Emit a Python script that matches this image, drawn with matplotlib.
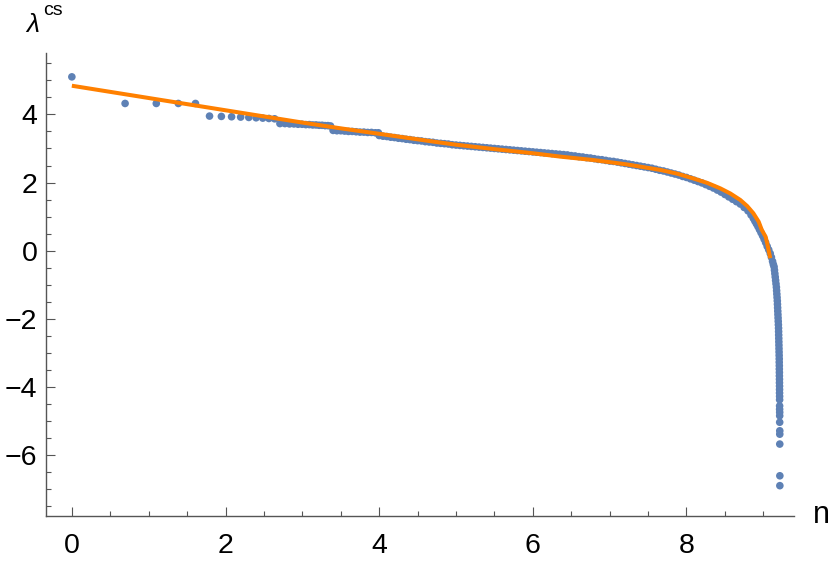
import numpy as np
import matplotlib.pyplot as plt
import matplotlib.ticker as mtick

plt.rcParams['font.family'] = ['Liberation Sans', 'DejaVu Sans']

# spectrum values (x = log index)
x_single = [0.0, 0.693, 1.099, 1.386, 1.609, 1.792, 1.946, 2.079, 2.197, 2.303,
            2.398, 2.485, 2.565, 2.639]
y_single = [5.10, 4.32, 4.32, 4.32, 4.32, 3.95, 3.94, 3.93, 3.92, 3.91,
            3.90, 3.89, 3.88, 3.87]

x_step1 = [2.708, 2.773, 2.833, 2.890, 2.944, 2.996, 3.045, 3.091, 3.135, 3.178,
           3.219, 3.258, 3.296, 3.332, 3.367]
y_step1 = [3.73, 3.73, 3.72, 3.72, 3.71, 3.71, 3.70, 3.70, 3.69, 3.69,
           3.68, 3.68, 3.67, 3.67, 3.66]

x_step2 = [3.40, 3.45, 3.50, 3.55, 3.60, 3.65, 3.70, 3.75, 3.80, 3.85, 3.90, 3.95, 3.99]
y_step2 = [3.53, 3.52, 3.52, 3.51, 3.50, 3.50, 3.49, 3.48, 3.48, 3.47, 3.47, 3.46, 3.46]

x_bulk = [4.00, 4.05, 4.10, 4.15, 4.20, 4.25, 4.30, 4.35, 4.40, 4.45,
          4.50, 4.55, 4.60, 4.65, 4.70, 4.75, 4.80, 4.85, 4.90, 4.95,
          5.00, 5.05, 5.10, 5.15, 5.20, 5.25, 5.30, 5.35, 5.40, 5.45,
          5.50, 5.55, 5.60, 5.65, 5.70, 5.75, 5.80, 5.85, 5.90, 5.95,
          6.00, 6.05, 6.10, 6.15, 6.20, 6.25, 6.30, 6.35, 6.40, 6.45,
          6.50, 6.55, 6.60, 6.65, 6.70, 6.75, 6.80, 6.85, 6.90, 6.95,
          7.00, 7.05, 7.10, 7.15, 7.20, 7.25, 7.30, 7.35, 7.40, 7.45,
          7.50, 7.55, 7.60, 7.65, 7.70, 7.75, 7.80, 7.85, 7.90, 7.95,
          8.00, 8.05, 8.10, 8.15, 8.20, 8.25, 8.30, 8.35, 8.40, 8.45,
          8.50, 8.55, 8.60, 8.65, 8.70, 8.75, 8.80, 8.84]
y_bulk = [3.38, 3.36, 3.35, 3.33, 3.32, 3.30, 3.29, 3.27, 3.26, 3.24,
          3.23, 3.22, 3.20, 3.19, 3.18, 3.16, 3.15, 3.14, 3.13, 3.11,
          3.10, 3.09, 3.08, 3.07, 3.06, 3.05, 3.04, 3.03, 3.02, 3.01,
          3.00, 2.99, 2.98, 2.97, 2.96, 2.95, 2.94, 2.93, 2.92, 2.91,
          2.90, 2.89, 2.88, 2.87, 2.86, 2.85, 2.84, 2.83, 2.82, 2.81,
          2.79, 2.78, 2.76, 2.75, 2.73, 2.72, 2.70, 2.68, 2.67, 2.65,
          2.63, 2.62, 2.60, 2.58, 2.56, 2.54, 2.52, 2.50, 2.48, 2.46,
          2.44, 2.42, 2.39, 2.36, 2.34, 2.31, 2.28, 2.25, 2.22, 2.18,
          2.15, 2.11, 2.07, 2.03, 1.99, 1.94, 1.89, 1.84, 1.78, 1.72,
          1.65, 1.58, 1.51, 1.44, 1.37, 1.27, 1.17, 1.05]

x_knee = [8.87, 8.89, 8.91, 8.93, 8.95, 8.97, 8.99, 9.01, 9.03, 9.05,
          9.07, 9.09, 9.105, 9.12, 9.13, 9.14]
y_knee = [0.95, 0.87, 0.79, 0.71, 0.62, 0.53, 0.44, 0.34, 0.24, 0.13,
          0.03, -0.08, -0.19, -0.31, -0.40, -0.47]

x_tail = [9.145, 9.150, 9.155, 9.160, 9.165, 9.170, 9.173, 9.176, 9.179, 9.182,
          9.184, 9.186, 9.188, 9.190, 9.192, 9.194,
          9.196, 9.198, 9.199, 9.200, 9.201, 9.202, 9.203, 9.204, 9.205, 9.206,
          9.207, 9.207, 9.208, 9.208, 9.209, 9.209, 9.210, 9.210, 9.211, 9.211,
          9.211, 9.212, 9.212,
          9.212, 9.212, 9.213, 9.213, 9.213, 9.214, 9.214, 9.214, 9.215, 9.215]
y_tail = [-0.57, -0.67, -0.77, -0.87, -0.97, -1.07, -1.17, -1.27, -1.37, -1.47,
          -1.57, -1.67, -1.77, -1.87, -1.97, -2.07,
          -2.17, -2.27, -2.37, -2.47, -2.57, -2.67, -2.77, -2.87, -2.97, -3.07,
          -3.17, -3.27, -3.37, -3.47, -3.57, -3.67, -3.77, -3.87, -3.97, -4.07,
          -4.17, -4.27, -4.37,
          -4.55, -4.65, -4.74, -4.84, -5.03, -5.28, -5.38, -5.67, -6.60, -6.89]

# fitted curve
x_fit = [0.0, 0.5, 1.0, 1.5, 2.0, 2.5, 3.0, 3.5, 4.0, 4.71, 5.0, 5.5, 6.0, 6.36,
         6.79, 7.23, 7.66, 7.88, 8.09, 8.27, 8.44, 8.57, 8.70, 8.79, 8.87, 8.94,
         8.98, 9.03, 9.05, 9.09]
y_fit = [4.84, 4.66, 4.48, 4.30, 4.12, 3.94, 3.76, 3.59, 3.43, 3.20, 3.11, 2.98, 2.86, 2.76,
         2.66, 2.53, 2.37, 2.26, 2.12, 1.99, 1.83, 1.68, 1.49, 1.31, 1.10, 0.85,
         0.61, 0.41, 0.22, -0.22]

blue = '#5E81B5'
orange = '#FF8000'
gray = '#555555'

xs = x_single + x_step1 + x_step2 + x_bulk + x_knee + x_tail
ys = y_single + y_step1 + y_step2 + y_bulk + y_knee + y_tail

fig = plt.figure(figsize=(8.3, 5.65), dpi=100)
ax = fig.add_axes([0.0551, 0.0867, 0.9016, 0.8195])

ax.scatter(xs, ys, s=30, color=blue, edgecolors='none', zorder=2)
ax.plot(x_fit, y_fit, color=orange, lw=2.9, zorder=3,
        solid_capstyle='butt', solid_joinstyle='round')

ax.set_xlim(-0.34, 9.40)
ax.set_ylim(-7.78, 5.80)

for s in ['top', 'right']:
    ax.spines[s].set_visible(False)
for s in ['left', 'bottom']:
    ax.spines[s].set_color(gray)
    ax.spines[s].set_linewidth(1.0)

ax.xaxis.set_major_locator(mtick.MultipleLocator(2))
ax.xaxis.set_minor_locator(mtick.MultipleLocator(0.5))
ax.yaxis.set_major_locator(mtick.MultipleLocator(2))
ax.yaxis.set_minor_locator(mtick.MultipleLocator(0.5))
ax.tick_params(which='both', direction='in', color=gray, width=0.8, labelsize=20.5)
ax.tick_params(which='major', length=6.3)
ax.tick_params(which='minor', length=3.6)
ax.tick_params(axis='x', which='major', pad=12)
ax.tick_params(axis='y', which='major', pad=6)

fig.text(26 / 830, 1 - 32 / 565, 'λ', fontsize=19, style='italic')
fig.text(43 / 830, 1 - 15 / 565, 'cs', fontsize=14)
fig.text(813 / 830, 1 - 523 / 565, 'n', fontsize=22)

fig.savefig('out.png', dpi=100)
